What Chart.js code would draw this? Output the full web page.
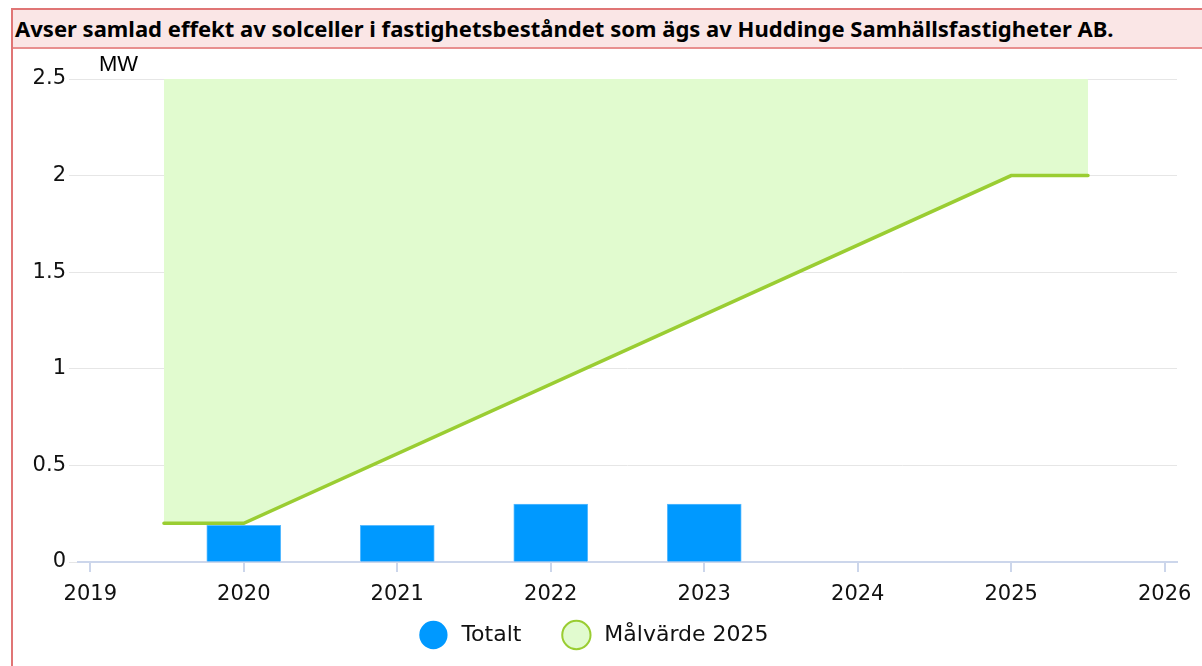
<!DOCTYPE html>
<html>
<head>
<meta charset="utf-8">
<script src="https://cdn.jsdelivr.net/npm/chart.js@4"></script>
<style>
  body { margin: 0; background: #fff; }
  #frame { position: absolute; left: 11px; top: 8px; width: 1191px; height: 658px; border-left: 2px solid #e07575; }
  #title { position: absolute; left: 0; top: 0; width: 1191px; height: 37px; background: #fae6e6;
           border-top: 2px solid #e07575; border-bottom: 2px solid #e89090;
           font-family: "Noto Sans", sans-serif; font-weight: bold; color: #000; white-space: nowrap;
           line-height: 37px; padding-left: 2px; box-sizing: content-box; }
  #wrap { position: absolute; left: 2px; top: 41px; width: 1189px; height: 617px; }
</style>
</head>
<body>
<div id="frame">
  <div id="title">Avser samlad effekt av solceller i fastighetsbeståndet som ägs av Huddinge Samhällsfastigheter AB.</div>
  <div id="wrap"><canvas id="chart"></canvas></div>
</div>
<script>
// data
const barYears = [2020, 2021, 2022, 2023];
const totalt = [0.19, 0.19, 0.3, 0.3];
const targetYears = [2019.48, 2020, 2025, 2025.5];
const targetValues = [0.2, 0.2, 2.0, 2.0];
const xTicks = [2019, 2020, 2021, 2022, 2023, 2024, 2025, 2026];
const yTicks = [0, 0.5, 1, 1.5, 2, 2.5];
const seriesNames = ['Totalt', 'Målvärde 2025'];
const unitLabel = 'MW';

// fit the title to its width
const t = document.getElementById('title');
t.style.fontSize = '22px';
const c = document.createElement('canvas').getContext('2d');
c.font = 'bold 22px "Noto Sans"';
const w = c.measureText(t.textContent).width;
t.style.fontSize = (22 * 1099 / w).toFixed(2) + 'px';

const unitPlugin = {
  id: 'unit',
  afterDraw(chart) {
    const ctx = chart.ctx;
    ctx.save();
    ctx.font = '22px "Liberation Sans"';
    ctx.fillStyle = '#000';
    ctx.textBaseline = 'middle';
    ctx.fillText(unitLabel, chart.chartArea.left + 21, chart.chartArea.top - 14);
    ctx.restore();
  }
};

const ctx = document.getElementById('chart');
new Chart(ctx, {
  type: 'bar',
  data: {
    datasets: [{
      type: 'bar',
      label: seriesNames[0],
      data: barYears.map((x, i) => ({ x: x, y: totalt[i] })),
      backgroundColor: '#0099ff',
      borderColor: '#5cbcff',
      borderWidth: 1,
      barThickness: 74,
      order: 2
    }, {
      type: 'line',
      label: seriesNames[1],
      data: targetYears.map((x, i) => ({ x: x, y: targetValues[i] })),
      borderColor: '#9acd32',
      backgroundColor: '#e1fbcf',
      borderWidth: 3.5,
      borderCapStyle: 'round',
      pointRadius: 0,
      fill: 'end',
      order: 1
    }]
  },
  options: {
    responsive: true,
    maintainAspectRatio: false,
    animation: false,
    layout: { padding: { top: 30, right: 27, bottom: 10, left: 0 } },
    plugins: {
      legend: {
        position: 'bottom',
        labels: {
          usePointStyle: true,
          boxWidth: 20,
          boxHeight: 20,
          padding: 10,
          color: '#111',
          font: { family: 'DejaVu Sans', size: 22 },
          sort: (a, b) => a.datasetIndex - b.datasetIndex,
          generateLabels(chart) {
            const items = Chart.defaults.plugins.legend.labels.generateLabels(chart);
            items.forEach(it => {
              it.pointStyle = 'circle';
              if (it.datasetIndex === 1) {
                it.lineWidth = 2; it.strokeStyle = '#9acd32'; it.fillStyle = '#e1fbcf';
                it.text = ' ' + it.text;
              } else {
                it.lineWidth = 0; it.fillStyle = '#0099ff';
                it.text = ' ' + it.text + '     ';
              }
            });
            return items;
          }
        }
      },
      tooltip: { enabled: false }
    },
    scales: {
      x: {
        type: 'linear',
        offset: false,
        min: 2018.92,
        max: 2026.08,
        afterBuildTicks: s => { s.ticks = xTicks.map(v => ({ value: v })); },
        afterFit: s => { s.height = 52; },
        ticks: {
          padding: 10,
          color: '#111',
          font: { family: 'DejaVu Sans', size: 21 },
          callback: v => String(v)
        },
        grid: { offset: false, drawOnChartArea: false, drawTicks: true, tickLength: 10, lineWidth: 2, color: '#ccd6eb' },
        border: { color: '#ccd6eb', width: 2 }
      },
      y: {
        min: 0,
        max: 2.5,
        afterBuildTicks: s => { s.ticks = yTicks.map(v => ({ value: v })); },
        afterFit: s => { s.width = 63; },
        ticks: {
          padding: 3,
          color: '#111',
          font: { family: 'DejaVu Sans', size: 21 },
          callback: v => String(v)
        },
        grid: { color: '#e6e6e6', tickLength: 9 },
        border: { display: false }
      }
    }
  },
  plugins: [unitPlugin]
});
</script>
</body>
</html>
